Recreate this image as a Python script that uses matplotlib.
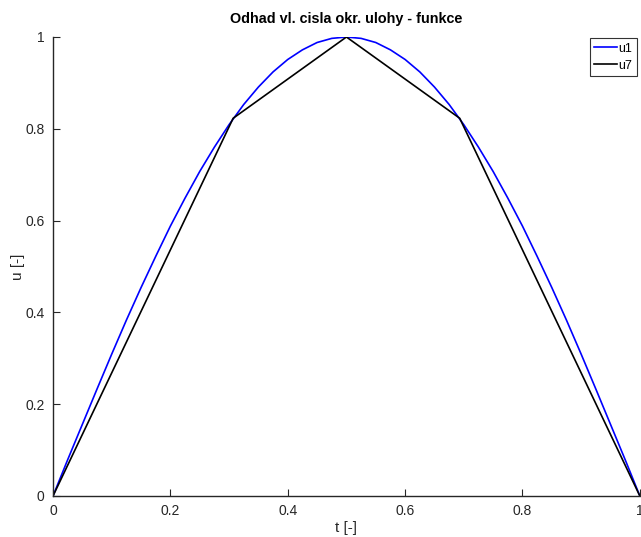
import numpy as np
import matplotlib
matplotlib.use('Agg')
import matplotlib.pyplot as plt

# u1 - hladka krivka
t1 = [0.0, 0.025, 0.05, 0.075, 0.1, 0.125, 0.15, 0.175, 0.2, 0.225, 0.25,
      0.275, 0.3, 0.325, 0.35, 0.375, 0.4, 0.425, 0.45, 0.475, 0.5,
      0.525, 0.55, 0.575, 0.6, 0.625, 0.65, 0.675, 0.7, 0.725, 0.75,
      0.775, 0.8, 0.825, 0.85, 0.875, 0.9, 0.925, 0.95, 0.975, 1.0]
u1 = [0.0, 0.079, 0.156, 0.233, 0.309, 0.383, 0.454, 0.522, 0.588, 0.649, 0.707,
      0.760, 0.809, 0.853, 0.891, 0.924, 0.951, 0.972, 0.988, 0.997, 1.0,
      0.997, 0.988, 0.972, 0.951, 0.924, 0.891, 0.853, 0.809, 0.760, 0.707,
      0.649, 0.588, 0.522, 0.454, 0.383, 0.309, 0.233, 0.156, 0.079, 0.0]

# u7 - lomena cara
t7 = [0.0, 0.307, 0.5, 0.693, 1.0]
u7 = [0.0, 0.823, 1.0, 0.823, 0.0]

xticks = [0, 0.2, 0.4, 0.6, 0.8, 1]
yticks = [0, 0.2, 0.4, 0.6, 0.8, 1]
ticklabels = ['0', '0.2', '0.4', '0.6', '0.8', '1']

plt.rcParams['font.family'] = ['Liberation Sans', 'DejaVu Sans']

fig = plt.figure(figsize=(6.41, 5.37), dpi=100)
ax = fig.add_axes([0.0827, 0.0764, 0.9155, 0.8547])

ax.plot(t1, u1, color='blue', lw=1.2, label='u1')
ax.plot(t7, u7, color='black', lw=1.2, label='u7')

ax.set_xlim(0, 1)
ax.set_ylim(0, 1)
ax.set_xticks(xticks)
ax.set_xticklabels(ticklabels)
ax.set_yticks(yticks)
ax.set_yticklabels(ticklabels)
ax.tick_params(direction='in', length=5, width=0.8, labelsize=10, colors='#262626', pad=6)
ax.spines['top'].set_visible(False)
ax.spines['right'].set_visible(False)
for s in ['left', 'bottom']:
    ax.spines[s].set_color('#262626')
    ax.spines[s].set_linewidth(1.0)

ax.set_xlabel('t [-]', fontsize=11, color='#262626', labelpad=2)
ax.set_ylabel('u [-]', fontsize=11, color='#262626', labelpad=0)
ax.set_title('Odhad vl. cisla okr. ulohy - funkce', fontsize=10.4, fontweight='bold', pad=10)

leg = ax.legend(loc='upper right', bbox_to_anchor=(0.997, 1.0), fontsize=9,
                frameon=True, fancybox=False, edgecolor='black', handlelength=1.8,
                handletextpad=0.15, borderpad=0.35, labelspacing=0.4, borderaxespad=0.1)
leg.get_frame().set_linewidth(0.8)

fig.savefig('out.png', dpi=100)
